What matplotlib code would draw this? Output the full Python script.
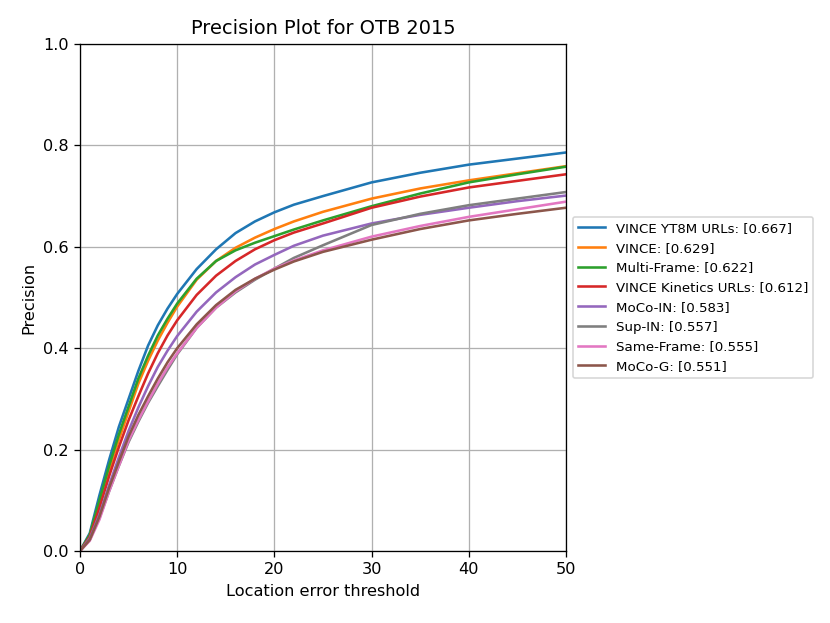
import numpy as np
import matplotlib
matplotlib.use("Agg")
import matplotlib.pyplot as plt

# location error thresholds (pixels)
thresholds = [0, 1, 2, 3, 4, 5, 6, 7, 8, 9, 10, 12, 14, 16, 18, 20, 22, 25, 30, 35, 40, 45, 50]

# precision values
vince_yt8m = [0.0, 0.035, 0.11, 0.18, 0.245, 0.30, 0.355, 0.405, 0.445, 0.478, 0.507, 0.556, 0.595,
              0.627, 0.650, 0.668, 0.683, 0.700, 0.727, 0.746, 0.762, 0.774, 0.786]
vince = [0.0, 0.03, 0.095, 0.16, 0.22, 0.275, 0.33, 0.375, 0.415, 0.45, 0.482, 0.535, 0.572,
         0.598, 0.618, 0.635, 0.650, 0.669, 0.695, 0.715, 0.731, 0.745, 0.759]
multi_frame = [0.0, 0.032, 0.10, 0.168, 0.23, 0.285, 0.34, 0.385, 0.425, 0.458, 0.488, 0.537, 0.572,
               0.593, 0.608, 0.621, 0.634, 0.652, 0.680, 0.705, 0.727, 0.743, 0.758]
vince_kinetics = [0.0, 0.028, 0.085, 0.148, 0.205, 0.258, 0.305, 0.35, 0.39, 0.425, 0.455, 0.505, 0.543,
                  0.572, 0.595, 0.613, 0.628, 0.646, 0.677, 0.699, 0.717, 0.730, 0.743]
moco_in = [0.0, 0.025, 0.072, 0.13, 0.185, 0.237, 0.283, 0.325, 0.363, 0.395, 0.424, 0.472, 0.51,
           0.540, 0.565, 0.584, 0.602, 0.622, 0.646, 0.663, 0.677, 0.690, 0.701]
sup_in = [0.0, 0.022, 0.065, 0.118, 0.168, 0.215, 0.255, 0.292, 0.325, 0.357, 0.388, 0.44, 0.48,
          0.510, 0.535, 0.557, 0.578, 0.603, 0.643, 0.665, 0.682, 0.695, 0.708]
same_frame = [0.0, 0.02, 0.062, 0.118, 0.168, 0.218, 0.258, 0.295, 0.33, 0.362, 0.39, 0.44, 0.48,
              0.512, 0.537, 0.557, 0.573, 0.593, 0.620, 0.641, 0.659, 0.674, 0.689]
moco_g = [0.0, 0.022, 0.068, 0.125, 0.176, 0.226, 0.268, 0.305, 0.34, 0.372, 0.40, 0.447, 0.485,
          0.515, 0.537, 0.555, 0.571, 0.590, 0.614, 0.635, 0.652, 0.665, 0.677]

labels = ["VINCE YT8M URLs: [0.667]", "VINCE: [0.629]", "Multi-Frame: [0.622]",
          "VINCE Kinetics URLs: [0.612]", "MoCo-IN: [0.583]", "Sup-IN: [0.557]",
          "Same-Frame: [0.555]", "MoCo-G: [0.551]"]
series = [vince_yt8m, vince, multi_frame, vince_kinetics, moco_in, sup_in, same_frame, moco_g]
colors = ["#1f77b4", "#ff7f0e", "#2ca02c", "#d62728", "#9467bd", "#7f7f7f", "#e377c2", "#8c564b"]

dpi = 116
fig = plt.figure(figsize=(830 / dpi, 623 / dpi), dpi=dpi)
ax = fig.add_axes([0.0964, 0.1156, 0.5855, 0.8138])

for vals, lab, c in zip(series, labels, colors):
    ax.plot(thresholds, vals, color=c, lw=1.6, label=lab)

ax.set_xlim(0, 50)
ax.set_ylim(0, 1)
ax.set_xticks([0, 10, 20, 30, 40, 50])
ax.set_yticks([0.0, 0.2, 0.4, 0.6, 0.8, 1.0])
ax.grid(True)
ax.set_xlabel("Location error threshold")
ax.set_ylabel("Precision")
ax.set_title("Precision Plot for OTB 2015")
ax.legend(loc="center left", bbox_to_anchor=(1, 0.5), fontsize="small")

fig.savefig("out.png", dpi=dpi)
